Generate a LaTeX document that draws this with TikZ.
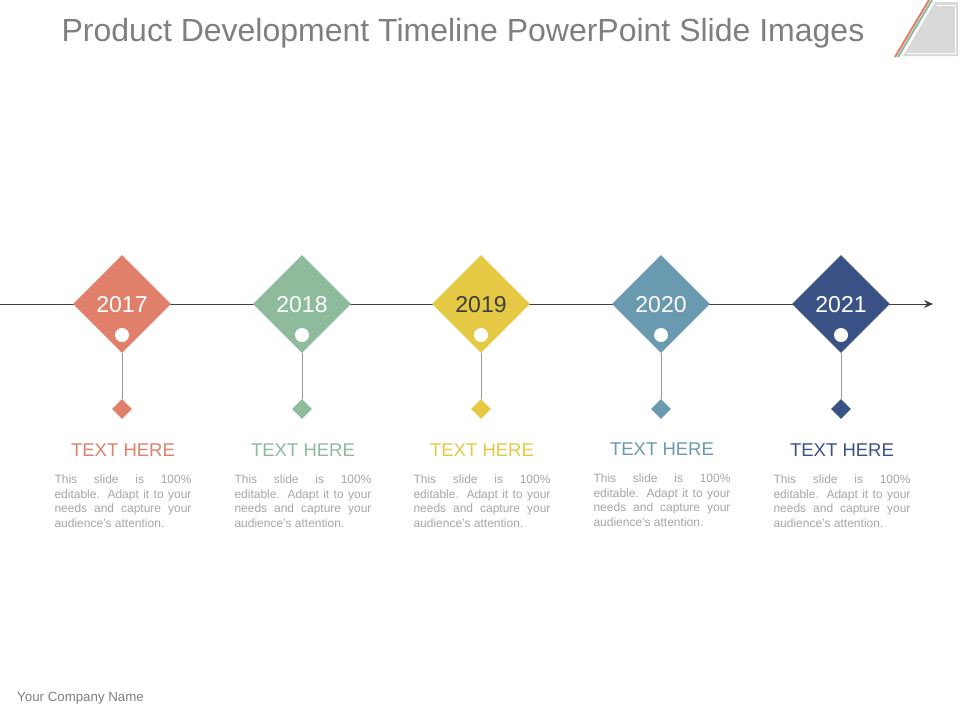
\documentclass[tikz,border=0pt]{standalone}
\usepackage{fontspec}
\setmainfont{Liberation Sans}
\usetikzlibrary{arrows.meta,shapes.geometric}
\definecolor{cA}{HTML}{E07F6A}
\definecolor{cB}{HTML}{8DBB9B}
\definecolor{cC}{HTML}{E5C843}
\definecolor{cD}{HTML}{6A9AB0}
\definecolor{cE}{HTML}{3A5286}
\definecolor{titlegray}{HTML}{7F7F7F}
\definecolor{bodygray}{HTML}{A6A6A6}
\definecolor{linegray}{HTML}{3F3F3F}
\definecolor{decogray}{HTML}{D9D9D9}
\tikzset{
  yearbox/.style={diamond, minimum width=98pt, minimum height=98pt, inner sep=0pt},
  smalld/.style={diamond, minimum width=20pt, minimum height=20pt, inner sep=0pt},
  dot/.style={circle, fill=white, minimum size=14pt, inner sep=0pt},
  headtxt/.style={font=\fontsize{18.5}{20}\selectfont, anchor=center},
  bodytxt/.style={text=bodygray, anchor=north, inner sep=0pt, text width=137pt, align=justify, font=\fontsize{12}{14.5}\selectfont},
  stem/.style={draw=gray!80, line width=0.8pt}
}
\begin{document}
\begin{tikzpicture}[x=1pt,y=-1pt]
\useasboundingbox (0,0) rectangle (960,720);
% decoration top right
\fill[decogray] (935,2) -- (958,2) -- (958,56) -- (903,56) -- cycle;
\draw[white, line width=0.8pt] (937,5) -- (955,5) -- (955,53) -- (907,53);
\draw[cA, line width=2pt] (895,57) -- (929,0);
\draw[cB, line width=2pt] (898,57) -- (932,0);
% title
\node[text=titlegray, font=\fontsize{32}{34}\selectfont] (title) at (463,33) {Product Development Timeline PowerPoint Slide Images};
% timeline
\coordinate (tlstart) at (0,304);
\coordinate (tlend) at (933,304);
\draw[linegray, line width=0.8pt, -{Stealth[length=9pt,width=8pt]}] (tlstart) -- (tlend);
% items
\foreach \i/\x/\c/\y/\tc/\dy in {1/122/cA/2017/white/0, 2/302/cB/2018/white/0, 3/481/cC/2019/linegray/0, 4/661/cD/2020/white/-1, 5/841/cE/2021/white/0}{
  \node[yearbox, fill=\c] (d\i) at (\x,304) {};
  \node[text=\tc, font=\fontsize{23}{25}\selectfont] (y\i) at (\x,305) {\y};
  \node[dot] (c\i) at (\x,335) {};
  \node[smalld, fill=\c] (s\i) at (\x,409) {};
  \draw[stem] (d\i.south) -- (s\i.north);
  \node[headtxt, text=\c] (h\i) at (\x+1,450+\dy) {TEXT HERE};
  \node[bodytxt] (b\i) at (\x+1,475+\dy) {This slide is 100\%\linebreak editable. Adapt it to your\linebreak needs and capture your\linebreak audience's attention.};
}
\node[text=titlegray, anchor=west, inner sep=0pt, font=\fontsize{13.3}{15}\selectfont] (company) at (17,698) {Your Company Name};
\end{tikzpicture}
\end{document}
